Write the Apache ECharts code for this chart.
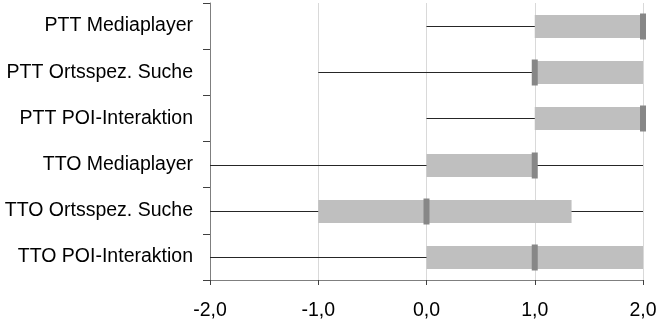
<!DOCTYPE html>
<html>
<head>
<meta charset="utf-8">
<script src="https://cdn.jsdelivr.net/npm/echarts@6/dist/echarts.min.js"></script>
<style>
  html, body { margin: 0; padding: 0; background: #fff; }
  #chart { width: 656px; height: 323px; }
</style>
</head>
<body>
<div id="chart"></div>
<script>
// Task conditions, listed top to bottom
const categories = [
  'PTT Mediaplayer',
  'PTT Ortsspez. Suche',
  'PTT POI-Interaktion',
  'TTO Mediaplayer',
  'TTO Ortsspez. Suche',
  'TTO POI-Interaktion'
];
// Box-plot statistics per condition
const minVals    = [ 0, -1,  0, -2, -2, -2];
const q1Vals     = [ 1,  1,  1,  0, -1,  0];
const medianVals = [ 2,  1,  2,  1,  0,  1];
const q3Vals     = [ 2,  2,  2,  1, 1.34, 2];
const maxVals    = [ 2,  2,  2,  2,  2,  2];

const xMin = -2, xMax = 2, xStep = 1;

const rows = categories.map((c, i) => [i, minVals[i], q1Vals[i], medianVals[i], q3Vals[i], maxVals[i]]);

const chart = echarts.init(document.getElementById('chart'));

function renderBox(params, api) {
  const idx = api.value(0);
  const pMin = api.coord([api.value(1), idx]);
  const pQ1  = api.coord([api.value(2), idx]);
  const pMed = api.coord([api.value(3), idx]);
  const pQ3  = api.coord([api.value(4), idx]);
  const pMax = api.coord([api.value(5), idx]);
  const y = Math.round(pMed[1]) + 0.5;
  const boxH = 23, medH = 26, medW = 6;
  return {
    type: 'group',
    children: [
      {
        type: 'line',
        shape: { x1: pMin[0], y1: y, x2: pMax[0], y2: y },
        style: { stroke: '#262626', lineWidth: 1 }
      },
      {
        type: 'rect',
        shape: { x: pQ1[0], y: y - boxH / 2, width: pQ3[0] - pQ1[0], height: boxH },
        style: { fill: '#bfbfbf' }
      },
      {
        type: 'rect',
        shape: { x: pMed[0] - medW / 2, y: y - medH / 2, width: medW, height: medH },
        style: { fill: '#878787' }
      }
    ]
  };
}

chart.setOption({
  animation: false,
  textStyle: { fontFamily: 'Liberation Sans, Arial, sans-serif' },
  grid: { left: 210, right: 13, top: 3, bottom: 43, containLabel: false, outerBoundsMode: 'none' },
  xAxis: {
    type: 'value',
    min: xMin, max: xMax, interval: xStep,
    axisLine: { show: true, lineStyle: { color: '#7f7f7f', width: 1 } },
    axisTick: { show: true, length: 5, lineStyle: { color: '#404040' } },
    splitLine: { show: true, lineStyle: { color: '#d9d9d9', width: 1 } },
    axisLabel: {
      color: '#000', fontSize: 19.5, margin: 21,
      formatter: v => v.toFixed(1).replace('.', ',')
    }
  },
  yAxis: {
    type: 'category',
    data: categories,
    inverse: true,
    axisLine: { show: true, onZero: false, lineStyle: { color: '#7f7f7f', width: 1 } },
    axisTick: { show: true, length: 7, interval: 0, lineStyle: { color: '#404040' } },
    splitLine: { show: false },
    axisLabel: { color: '#000', fontSize: 19.5, margin: 17, interval: 0 }
  },
  series: [{
    type: 'custom',
    renderItem: renderBox,
    encode: { x: [1, 2, 3, 4, 5], y: 0 },
    data: rows,
    z: 5
  }]
});
</script>
</body>
</html>
